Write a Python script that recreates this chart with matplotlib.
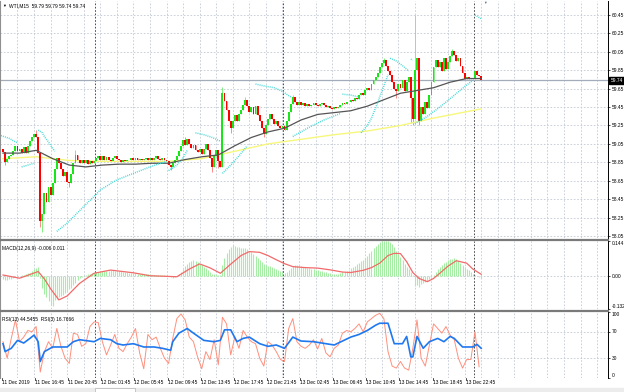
import numpy as np
import matplotlib.pyplot as plt
from matplotlib.lines import Line2D
from matplotlib.patches import Rectangle
from matplotlib.transforms import blended_transform_factory

plt.rcParams['font.family'] = ['Liberation Sans', 'DejaVu Sans']

# ---- price data (15 min bars, 11 Dec 12:45 .. 13 Dec) ----
first_open = 58.99
close = [
    58.96, 58.85, 58.89, 58.92, 58.93, 58.97, 59.03, 58.97, 59.00, 58.95, 59.02, 58.95, 59.03, 59.08, 59.12, 59.16,
    59.12, 58.95, 58.21, 58.29, 58.52, 58.42, 58.58, 58.50, 58.62, 58.78, 58.90, 58.84, 58.78, 58.70, 58.75, 58.64,
    58.62, 58.72, 58.84, 58.93, 58.88, 58.84, 58.88, 58.84, 58.87, 58.83, 58.86, 58.84, 58.86, 58.90, 58.92, 58.88,
    58.92, 58.87, 58.91, 58.87, 58.86, 58.90, 58.92, 58.89, 58.87, 58.85, 58.88, 58.86, 58.87, 58.88, 58.90, 58.88,
    58.90, 58.88, 58.89, 58.87, 58.89, 58.90, 58.88, 58.90, 58.87, 58.90, 58.92, 58.89, 58.87, 58.90, 58.88, 58.86,
    58.82, 58.80, 58.84, 58.88, 58.92, 58.97, 59.03, 59.09, 59.04, 59.10, 59.05, 59.01, 59.04, 58.98, 58.96, 59.00,
    58.94, 58.99, 59.05, 58.98, 58.90, 58.80, 58.92, 58.98, 58.86, 58.80, 59.60, 59.52, 59.42, 59.30, 59.22, 59.30,
    59.36, 59.30, 59.38, 59.42, 59.47, 59.53, 59.46, 59.40, 59.45, 59.38, 59.46, 59.36, 59.30, 59.22, 59.16, 59.25,
    59.32, 59.38, 59.32, 59.27, 59.30, 59.24, 59.22, 59.24, 59.20, 59.30, 59.40, 59.48, 59.56, 59.50, 59.47, 59.50,
    59.47, 59.49, 59.46, 59.48, 59.46, 59.47, 59.49, 59.47, 59.46, 59.48, 59.49, 59.47, 59.45, 59.46, 59.44, 59.43,
    59.45, 59.44, 59.45, 59.47, 59.49, 59.48, 59.51, 59.50, 59.53, 59.52, 59.55, 59.54, 59.58, 59.60, 59.58, 59.63,
    59.66, 59.64, 59.70, 59.74, 59.78, 59.82, 59.88, 59.93, 59.96, 59.90, 59.84, 59.80, 59.72, 59.65, 59.62, 59.70,
    59.66, 59.74, 59.62, 59.72, 59.78, 59.55, 59.32, 59.85, 59.98, 59.30, 59.45, 59.38, 59.50, 59.44, 59.58, 59.72,
    59.88, 59.96, 59.88, 59.94, 59.84, 59.98, 59.86, 59.94, 60.00, 60.06, 60.02, 59.95, 59.98, 59.90, 59.82, 59.76,
    59.78, 59.75, 59.77, 59.75, 59.84, 59.80, 59.79, 59.74,
]
wick_high = {16: 59.20, 35: 58.98, 88: 59.13, 106: 59.67, 117: 59.56, 140: 59.58,
             184: 59.98, 199: 60.45, 217: 60.08}
wick_low = {1: 58.82, 18: 58.15, 19: 58.09, 32: 58.58, 81: 58.77, 101: 58.75, 104: 58.79,
            110: 59.17, 126: 59.13, 190: 59.55, 197: 59.28, 198: 59.25, 201: 59.26}

# moving averages
ma_black_bar = list(range(0, 232, 8)) + [231]
ma_black = [58.95, 58.95, 58.98, 58.89, 58.82, 58.80, 58.82, 58.83, 58.83, 58.84,
            58.84, 58.88, 58.91, 58.93, 59.03, 59.12, 59.18, 59.22, 59.31, 59.37,
            59.39, 59.41, 59.46, 59.53, 59.60, 59.63, 59.66, 59.72, 59.76, 59.76]
ma_yellow_bar = list(range(0, 232, 16)) + [231]
ma_yellow = [58.89, 58.91, 58.87, 58.86, 58.86, 58.86, 58.89, 58.97,
             59.05, 59.10, 59.15, 59.19, 59.25, 59.33, 59.40, 59.43]

# parabolic SAR runs (None = switch side)
sar_bar = [
    -1, 3, 7, None,
    9, 15, None,
    17, 19, 20, 22, 24, 25, None,
    26, 31, 39, 44, 47, 55, 63, 71, 79, None,
    80, 84, 87, 89, None,
    93, 97, 101, 105, None,
    106, 110, 114, 118, None,
    122, 126, 131, 135, 139, None,
    140, 147, 155, 163, None,
    164, 168, 172, None,
    173, 176, 178, 180, 182, 184, 186, None,
    187, 190, 193, 196, None,
    197, 198, None,
    199, 205, 211, 217, 224, 227, None,
    228, 231,
]
sar_val = [
    59.14, 59.11, 59.06, None,
    58.80, 58.84, None,
    59.20, 59.17, 59.13, 59.07, 59.00, 58.97, None,
    58.10, 58.19, 58.37, 58.48, 58.55, 58.66, 58.73, 58.80, 58.86, None,
    58.76, 58.82, 58.90, 58.98, None,
    59.17, 59.15, 59.12, 59.08, None,
    58.73, 58.82, 58.92, 59.03, None,
    59.70, 59.68, 59.66, 59.62, 59.56, None,
    59.13, 59.22, 59.31, 59.38, None,
    59.59, 59.58, 59.56, None,
    59.17, 59.25, 59.33, 59.44, 59.56, 59.68, 59.80, None,
    59.98, 59.95, 59.90, 59.84, None,
    59.97, 59.96, None,
    59.27, 59.35, 59.45, 59.56, 59.69, 59.74, None,
    60.45, 60.41,
]

# MACD(12,26,9)
macd_hist = [
    -0.012, -0.014, -0.015, -0.012, -0.010, -0.006, -0.003, 0.000, 0.002, 0.005, 0.008, 0.012, 0.014, 0.016, 0.022, 0.030,
    0.036, 0.038, -0.005, -0.045, -0.070, -0.085, -0.100, -0.115, -0.118, -0.095, -0.090, -0.085, -0.080, -0.075, -0.068, -0.060,
    -0.052, -0.045, -0.035, -0.025, -0.015, -0.008, -0.002, 0.003, 0.006, 0.009, 0.012, 0.014, 0.016, 0.018, 0.019, 0.020,
    0.021, 0.022, 0.023, 0.024, 0.025, 0.025, 0.024, 0.023, 0.022, 0.021, 0.020, 0.018, 0.017, 0.016, 0.015, 0.014,
    0.013, 0.012, 0.012, 0.011, 0.010, 0.010, 0.009, 0.009, 0.008, 0.008, 0.007, 0.007, 0.006, 0.005, 0.004, 0.003,
    0.000, -0.004, -0.006, -0.004, 0.002, 0.010, 0.020, 0.030, 0.042, 0.052, 0.060, 0.064, 0.065, 0.062, 0.058, 0.052,
    0.046, 0.040, 0.034, 0.028, 0.020, 0.012, 0.010, 0.012, 0.006, 0.004, 0.045, 0.075, 0.095, 0.110, 0.120, 0.128,
    0.125, 0.120, 0.118, 0.116, 0.115, 0.114, 0.110, 0.105, 0.098, 0.090, 0.083, 0.075, 0.066, 0.058, 0.050, 0.046,
    0.044, 0.042, 0.040, 0.036, 0.032, 0.028, 0.024, 0.020, 0.016, 0.020, 0.028, 0.036, 0.044, 0.046, 0.045, 0.043,
    0.041, 0.039, 0.037, 0.035, 0.033, 0.031, 0.029, 0.027, 0.025, 0.023, 0.021, 0.019, 0.017, 0.015, 0.013, 0.012,
    0.011, 0.011, 0.012, 0.014, 0.017, 0.020, 0.024, 0.028, 0.033, 0.038, 0.044, 0.050, 0.056, 0.062, 0.068, 0.076,
    0.084, 0.094, 0.104, 0.114, 0.124, 0.132, 0.138, 0.142, 0.144, 0.144, 0.142, 0.138, 0.130, 0.118, 0.105, 0.092,
    0.080, 0.066, 0.052, 0.040, 0.030, 0.020, 0.005, -0.040, -0.035, -0.042, -0.030, -0.028, -0.022, -0.018, -0.012, -0.004,
    0.008, 0.020, 0.030, 0.040, 0.048, 0.055, 0.060, 0.065, 0.069, 0.072, 0.074, 0.070, 0.064, 0.056, 0.048, 0.040,
    0.032, 0.025, 0.018, 0.012, 0.004, 0.001, -0.003, -0.006,
]
signal_bar = [0, 8, 13, 17, 20, 23, 27, 31, 37, 44, 52, 63, 71, 84, 90, 95, 100, 105, 110, 115,
              119, 124, 128, 132, 136, 140, 146, 152, 158, 164, 168, 174, 178, 182, 186, 189,
              192, 195, 198, 201, 205, 208, 211, 215, 219, 224, 227, 231]
signal_val = [0.006, -0.007, 0.008, 0.020, -0.010, -0.050, -0.095, -0.079, -0.028, 0.013, 0.026,
              0.015, 0.003, -0.001, 0.030, 0.051, 0.035, 0.013, 0.050, 0.085, 0.101, 0.098, 0.085,
              0.068, 0.052, 0.040, 0.036, 0.034, 0.027, 0.018, 0.016, 0.025, 0.036, 0.054, 0.085,
              0.094, 0.093, 0.060, 0.016, -0.008, -0.021, -0.008, 0.013, 0.042, 0.064, 0.054, 0.030, 0.009]

# RSI(13) and RSI(3)
rsi13_bar = [0, 1, 4, 7, 10, 13, 15, 17, 18, 20, 24, 31, 34, 37, 44, 47, 52, 55, 58, 63, 68, 73,
             77, 81, 82, 85, 89, 92, 97, 102, 105, 107, 110, 113, 116, 119, 124, 128, 132, 136,
             140, 144, 150, 156, 160, 164, 168, 172, 176, 180, 182, 186, 189, 193, 195, 197, 198,
             200, 203, 206, 210, 213, 216, 218, 222, 227, 229, 231]
rsi13 = [52, 40, 45, 57, 53, 60, 65, 55, 25, 40, 47, 47, 55, 58, 55, 60, 58, 52, 50, 52, 47, 47,
         45, 42, 55, 68, 75, 68, 57, 55, 57, 73, 73, 55, 60, 62, 52, 48, 50, 45,
         62, 56, 55, 52, 50, 56, 62, 66, 72, 80, 83, 83, 52, 52, 63, 32, 32,
         63, 45, 55, 60, 55, 63, 60, 47, 47, 51, 45]
rsi3 = [55, 30, 60, 88, 55, 62, 72, 70, 78, 9, 40, 55, 45, 75, 48, 30,
        22, 68, 66, 48, 52, 78, 85, 84, 55, 35, 50, 66, 45, 40, 52, 62,
        75, 38, 14, 66, 58, 62, 45, 30, 22, 60, 90, 97, 88, 62, 55, 32,
        14, 40, 28, 58, 20, 92, 82, 35, 62, 45, 72, 62, 55, 52, 30, 18,
        55, 50, 40, 28, 25, 75, 90, 55, 48, 45, 50, 58, 44, 60, 38, 32,
        45, 50, 68, 72, 70, 75, 82, 70, 85, 90, 95, 98, 90, 40, 18, 15,
        25, 15, 12, 45, 88, 30, 18, 50, 82, 75, 68, 78, 65, 58, 30, 15,
        28, 28, 70, 17]

price_ticks = [58.05, 58.25, 58.45, 58.65, 58.85, 59.05, 59.25, 59.45, 59.65, 59.85, 60.05, 60.25, 60.45]
last_price = 59.74
day_breaks = [44.5, 135.5, 227.5]
date_labels = ['11 Dec 2019', '11 Dec 16:45', '11 Dec 20:45', '12 Dec 01:45', '12 Dec 05:45',
               '12 Dec 09:45', '12 Dec 13:45', '12 Dec 17:45', '12 Dec 21:45', '13 Dec 02:45',
               '13 Dec 06:45', '13 Dec 10:45', '13 Dec 14:45', '13 Dec 18:45', '13 Dec 22:45']

# ---- layout (pixels of a 624x392 canvas) ----
W, H = 624, 392
PX = 2.07          # pixels per bar
X0 = 3.0           # pixel of bar 0
RIGHT = 608
FS = 3.5
gridc = '#c2c9d3'

fig = plt.figure(figsize=(W / 100, H / 100), dpi=100)
fig.patch.set_facecolor('white')


def panel(y0, y1):
    return fig.add_axes([0, 1 - y1 / H, RIGHT / W, (y1 - y0) / H])


ax = panel(1, 238)
am = panel(241, 309)
ar = panel(312, 378)

xlim = (-X0 / PX, (RIGHT - X0) / PX)
for a in (ax, am, ar):
    a.set_xlim(*xlim)
    a.set_xticks([])
    for b in range(7, 292, 8):
        a.axvline(b, color=gridc, lw=0.6, ls=(0, (2, 2)), zorder=0)
    for d in day_breaks:
        a.axvline(d, color='#303030', lw=0.6, ls=(0, (2, 2)), zorder=0)
    for s in ('top', 'bottom'):
        a.spines[s].set_visible(False)
    a.spines['left'].set_color('#909090')
    a.spines['right'].set_color('black')
    a.spines['right'].set_linewidth(0.7)
    a.yaxis.tick_right()
    a.tick_params(axis='y', length=1.5, width=0.5, pad=1, labelsize=FS)

# ---- main price panel ----
ax.set_ylim(58.028, 60.602)
ax.set_yticks(price_ticks)
ax.set_yticklabels([f'{p:.2f}' for p in price_ticks])
for p in price_ticks:
    ax.axhline(p, color=gridc, lw=0.6, ls=(0, (2, 2)), zorder=0)
ax.axhline(last_price, color='#a3adba', lw=0.9, zorder=1)

c = np.array(close)
o = np.r_[first_open, c[:-1]]
idx = np.arange(len(c))
hi = np.maximum(o, c)
lo = np.minimum(o, c)
for k, v in wick_high.items():
    hi[k] = v
for k, v in wick_low.items():
    lo[k] = v
up = c >= o
ax.vlines(idx[up], lo[up], hi[up], color='#7ef07e', lw=0.7, zorder=2)
ax.vlines(idx[~up], lo[~up], hi[~up], color='#ff8a8a', lw=0.7, zorder=2)
body = np.maximum(np.abs(c - o), 0.008)
ax.bar(idx, body, bottom=np.minimum(o, c), width=0.9,
       color=np.where(up, '#19e619', '#ff0000'), linewidth=0, zorder=3)

ax.plot(ma_yellow_bar, ma_yellow, color='#f7f77c', lw=1.0, zorder=2)
ax.plot(ma_black_bar, ma_black, color='#555555', lw=0.9, zorder=4)
ax.plot(np.array(sar_bar, dtype=float), np.array(sar_val, dtype=float),
        color='#3fd6d6', lw=1.1, ls=(0, (0.6, 0.75)), zorder=4)

tr = blended_transform_factory(ax.transAxes, ax.transData)
ax.text(1.004, last_price, f'{last_price:.2f}', transform=tr, fontsize=FS, color='white',
        va='center', ha='left', zorder=6,
        bbox=dict(boxstyle='square,pad=0.25', fc='black', ec='black'))
ax.text(0.004, 0.988, '\u25bc', transform=ax.transAxes, fontsize=2.8, va='top', ha='left')
ax.text(0.014, 0.99, 'WTI,M15  59.79 59.79 59.74 59.74', transform=ax.transAxes,
        fontsize=FS, va='top', ha='left')
ax.text(0.798, 1.0, '\u25bc', transform=ax.transAxes, fontsize=2.6, color='#6070a0',
        va='top', ha='center')

# ---- MACD panel ----
am.set_ylim(-0.132, 0.144)
am.set_yticks([0.144, 0.0, -0.132])
am.set_yticklabels([])
am.axhline(0, color=gridc, lw=0.6, ls=(0, (2, 2)), zorder=0)
am.vlines(idx, 0, macd_hist, color='#a6eea6', lw=0.8, zorder=2)
am.plot(signal_bar, signal_val, color='#f26a6a', lw=0.9, zorder=3)
trm = blended_transform_factory(am.transAxes, am.transData)
am.text(1.006, 0.144, '0.144', transform=trm, fontsize=FS, va='top', ha='left')
am.text(1.006, 0.0, '0.00', transform=trm, fontsize=FS, va='center', ha='left')
am.text(1.006, -0.132, '-0.132', transform=trm, fontsize=FS, va='bottom', ha='left')
am.text(0.004, 0.93, 'MACD(12,26,9) -0.006 0.011', transform=am.transAxes,
        fontsize=FS, va='top', ha='left')

# ---- RSI panel ----
ar.set_ylim(0, 100)
ar.set_yticks([100, 70, 30, 0])
ar.set_yticklabels([])
for lv in (70, 30):
    ar.axhline(lv, color=gridc, lw=0.6, ls=(0, (2, 2)), zorder=0)
ar.plot(np.arange(0, 232, 2), rsi3, color='#ff8f7c', lw=0.7, zorder=2)
ar.plot(rsi13_bar, rsi13, color='#1f78f0', lw=1.2, zorder=3)
trr = blended_transform_factory(ar.transAxes, ar.transData)
ar.text(1.006, 100, '100', transform=trr, fontsize=FS, va='top', ha='left')
ar.text(1.006, 70, '70', transform=trr, fontsize=FS, va='center', ha='left')
ar.text(1.006, 30, '30', transform=trr, fontsize=FS, va='center', ha='left')
ar.text(1.006, 0, '0', transform=trr, fontsize=FS, va='bottom', ha='left')
ar.text(0.004, 0.93, 'RSI(13) 44.5455  RSI(3) 16.7666', transform=ar.transAxes,
        fontsize=FS, va='top', ha='left')

# ---- panel separators, time axis, tab strip ----
for ysep in (239.5, 310.5):
    fig.add_artist(Line2D([0, RIGHT / W], [1 - ysep / H] * 2, color='#7a7a7a', lw=1.6))

for k, lab in enumerate(date_labels):
    xp = X0 + PX * (16 * k - 0.5)
    fig.text(xp / W, 1 - 382.5 / H, lab, fontsize=FS, va='center', ha='left')
    fig.add_artist(Line2D([xp / W] * 2, [1 - 378 / H, 1 - 380 / H], color='black', lw=0.5))

fig.add_artist(Rectangle((0, 0), 1, 4 / H, transform=fig.transFigure, color='#ececec', zorder=0))
fig.add_artist(Rectangle((95 / W, 0), 40 / W, 4 / H, transform=fig.transFigure,
                         fc='white', ec='#a0a0a0', lw=0.4))

fig.savefig('out.png', dpi=100)
